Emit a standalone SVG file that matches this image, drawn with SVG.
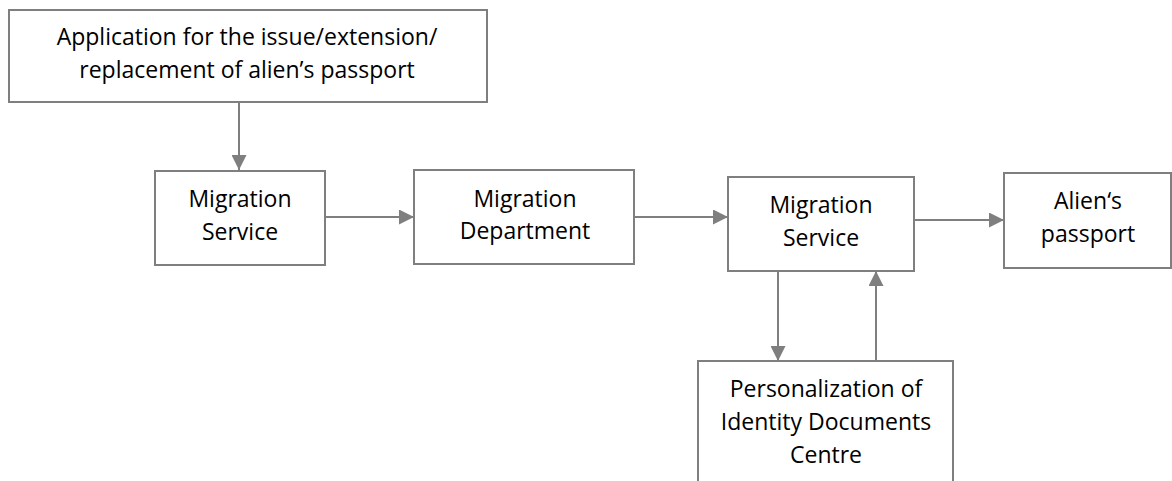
<svg xmlns="http://www.w3.org/2000/svg" width="1172" height="481" viewBox="0 0 1172 481">
<defs>
<style>
.box{fill:#fff;stroke:#7f7f7f;stroke-width:2}
.lbl{font-family:"Open Sans","Liberation Sans",sans-serif;font-size:23px;fill:#000;text-anchor:middle}
.edge{stroke:#7f7f7f;stroke-width:2;fill:none}
</style>
<marker id="ah" viewBox="0 0 15 15" refX="15" refY="7.5" markerWidth="15" markerHeight="15" markerUnits="userSpaceOnUse" orient="auto">
<path d="M0,0 L15,7.5 L0,15 Z" fill="#7f7f7f"/>
</marker>
</defs>
<rect width="1172" height="481" fill="#fff"/>
<g id="connectors">
<line class="edge" x1="239" y1="102" x2="239" y2="170" marker-end="url(#ah)"/>
<line class="edge" x1="325" y1="217" x2="414" y2="217" marker-end="url(#ah)"/>
<line class="edge" x1="634" y1="217" x2="728" y2="217" marker-end="url(#ah)"/>
<line class="edge" x1="914" y1="220" x2="1004" y2="220" marker-end="url(#ah)"/>
<line class="edge" x1="778" y1="271" x2="778" y2="361" marker-end="url(#ah)"/>
<line class="edge" x1="876" y1="361" x2="876" y2="271" marker-end="url(#ah)"/>
</g>
<g id="node-application">
<rect class="box" x="9" y="10" width="478" height="92"/>
<text class="lbl" x="247" y="45">Application for the issue/extension/</text>
<text class="lbl" x="247" y="78">replacement of alien’s passport</text>
</g>
<g id="node-migration-service-1">
<rect class="box" x="155" y="171" width="170" height="94"/>
<text class="lbl" x="240" y="207">Migration</text>
<text class="lbl" x="240" y="240">Service</text>
</g>
<g id="node-migration-department">
<rect class="box" x="414" y="170" width="220" height="94"/>
<text class="lbl" x="525" y="207">Migration</text>
<text class="lbl" x="525" y="239">Department</text>
</g>
<g id="node-migration-service-2">
<rect class="box" x="728" y="177" width="186" height="94"/>
<text class="lbl" x="821" y="213">Migration</text>
<text class="lbl" x="821" y="246">Service</text>
</g>
<g id="node-aliens-passport">
<rect class="box" x="1004" y="173" width="167" height="95"/>
<text class="lbl" x="1088" y="209">Alien‘s</text>
<text class="lbl" x="1088" y="242">passport</text>
</g>
<g id="node-personalization-centre">
<rect class="box" x="698" y="361" width="255" height="140"/>
<text class="lbl" x="826" y="397">Personalization of</text>
<text class="lbl" x="826" y="430">Identity Documents</text>
<text class="lbl" x="826" y="463">Centre</text>
</g>
</svg>
